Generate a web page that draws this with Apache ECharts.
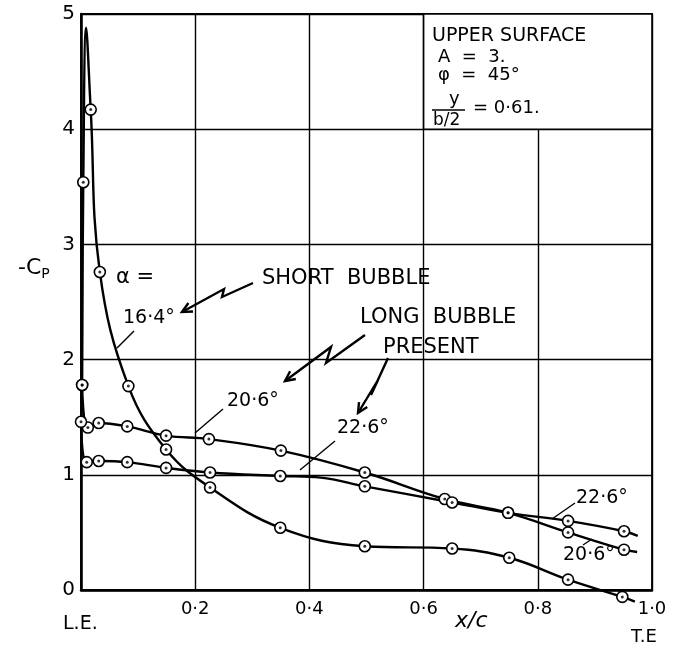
<!DOCTYPE html>
<html><head><meta charset="utf-8">
<script src="https://cdn.jsdelivr.net/npm/echarts@6/dist/echarts.min.js"></script>
<style>html,body{margin:0;padding:0;background:#fff}#c{width:673px;height:648px}</style>
</head><body><div id="c"></div>
<script>
// ---- data (x/c , -Cp) ----
const x164 = [0.002, 0.004, 0.009, 0.017, 0.033, 0.083, 0.149, 0.226, 0.349, 0.497, 0.650, 0.750, 0.853, 0.948, 0.970];
const y164 = [1.78, 3.54, 4.88, 4.17, 2.76, 1.77, 1.22, 0.89, 0.54, 0.38, 0.36, 0.28, 0.09, -0.06, -0.10];
const noMark164 = [2, 14];

const x206 = [0.002, 0.012, 0.031, 0.081, 0.149, 0.224, 0.350, 0.497, 0.637, 0.748, 0.853, 0.951, 0.974];
const y206 = [1.78, 1.41, 1.45, 1.42, 1.34, 1.31, 1.21, 1.02, 0.79, 0.67, 0.50, 0.35, 0.33];
const noMark206 = [12];

const x226 = [0.000, 0.010, 0.031, 0.081, 0.149, 0.226, 0.349, 0.420, 0.497, 0.650, 0.748, 0.853, 0.951, 0.975];
const y226 = [1.46, 1.11, 1.12, 1.11, 1.06, 1.02, 0.99, 0.975, 0.90, 0.76, 0.67, 0.60, 0.51, 0.47];
const noMark226 = [7, 13];

const xTicks = ['', '0·2', '0·4', '0·6', '0·8', '1·0'];
const yTicks = ['0', '1', '2', '3', '4', '5'];

const FONT = 'DejaVu Sans';
const chart = echarts.init(document.getElementById('c'));

function lineData(xs, ys, nm) {
  return xs.map((x, i) => ({ value: [x, ys[i]], symbol: nm.includes(i) ? 'none' : 'circle' }));
}
function dotData(xs, ys, nm) {
  return xs.map((x, i) => [x, ys[i]]).filter((d, i) => !nm.includes(i));
}
function curve(name, xs, ys, nm) {
  return {
    name, type: 'line', data: lineData(xs, ys, nm), smooth: 0.4,
    clip: false, symbolSize: 11, z: 3,
    lineStyle: { color: '#000', width: 2.4 },
    itemStyle: { color: '#fff', borderColor: '#000', borderWidth: 1.6 }
  };
}
function dots(xs, ys, nm) {
  return { type: 'scatter', data: dotData(xs, ys, nm), symbolSize: 3, clip: false, z: 4,
    itemStyle: { color: '#000' }, silent: true };
}

// annotation helpers (pixel positions)
function txt(text, x, y, size, extra) {
  return Object.assign({ type: 'text', z: 20, style: Object.assign({ text, x, y, fill: '#000',
    font: 'normal ' + size + 'px "' + FONT + '"', textVerticalAlign: 'middle' }, extra || {}) });
}
function pl(points, w) {
  return { type: 'polyline', z: 20, shape: { points }, style: { stroke: '#000', lineWidth: w || 1.6, fill: null } };
}
function arrow(points) {
  const n = points.length, a = points[n - 2], b = points[n - 1];
  const ang = Math.atan2(b[1] - a[1], b[0] - a[0]), L = 11, sp = 0.45;
  const h1 = [b[0] - L * Math.cos(ang - sp), b[1] - L * Math.sin(ang - sp)];
  const h2 = [b[0] - L * Math.cos(ang + sp), b[1] - L * Math.sin(ang + sp)];
  return [pl(points, 2.4), pl([h1, b, h2], 2.4)];
}

const option = {
  animation: false,
  backgroundColor: '#fff',
  grid: { left: 81, right: 21, top: 14, bottom: 58, show: true, borderColor: '#000', borderWidth: 1.8, backgroundColor: 'transparent' },
  xAxis: {
    type: 'value', min: 0, max: 1, interval: 0.2,
    axisLine: { show: true, onZero: false, lineStyle: { color: '#000', width: 2.5 } },
    axisTick: { show: false },
    splitLine: { show: true, lineStyle: { color: '#000', width: 1.4 } },
    axisLabel: { color: '#000', fontFamily: FONT, fontSize: 18, margin: 10,
      formatter: v => xTicks[Math.round(v / 0.2)] }
  },
  yAxis: {
    type: 'value', min: 0, max: 5, interval: 1,
    axisLine: { show: true, onZero: false, lineStyle: { color: '#000', width: 2.5 } },
    axisTick: { show: false },
    splitLine: { show: true, lineStyle: { color: '#000', width: 1.4 } },
    axisLabel: { color: '#000', fontFamily: FONT, fontSize: 20, margin: 6,
      formatter: v => yTicks[Math.round(v)] }
  },
  series: [
    Object.assign(curve('16.4°', x164, y164, noMark164), {
      markArea: { silent: true, z: 2,
        itemStyle: { color: '#fff', borderColor: '#000', borderWidth: 1.6 },
        data: [[{ coord: [0.6, 5] }, { coord: [1.0, 4] }]] }
    }),
    curve('20.6°', x206, y206, noMark206),
    curve('22.6°', x226, y226, noMark226),
    dots(x164, y164, noMark164),
    dots(x206, y206, noMark206),
    dots(x226, y226, noMark226)
  ],
  graphic: [
    { type: 'text', z: 20, style: { x: 18, y: 268, text: '{a|-C}{b|P}', textVerticalAlign: 'middle',
        rich: { a: { fontFamily: FONT, fontSize: 22, fill: '#000', color: '#000' },
                b: { fontFamily: FONT, fontSize: 14, fill: '#000', color: '#000', padding: [12, 0, 0, 0] } } } },
    txt('α =', 116, 278, 21),
    txt('16·4°', 123, 318, 19),
    pl([[117, 348], [134, 331]], 1.4),
    txt('SHORT  BUBBLE', 262, 279, 21),
    ...arrow([[253, 283], [222, 297], [224, 289], [182, 312]]),
    txt('LONG  BUBBLE', 360, 318, 21),
    txt('PRESENT', 383, 348, 21),
    ...arrow([[365, 335], [326, 363], [331, 347], [285, 381]]),
    ...arrow([[388, 358], [371, 395], [378, 380], [358, 413]]),
    txt('20·6°', 227, 401, 19),
    pl([[223, 409], [195, 433]], 1.4),
    txt('22·6°', 337, 428, 19),
    pl([[335, 441], [300, 470]], 1.4),
    txt('22·6°', 576, 498, 19),
    pl([[575, 503], [552, 519]], 1.4),
    txt('20·6°', 563, 555, 19),
    pl([[583, 545], [592, 539]], 1.4),
    txt('UPPER SURFACE', 432, 36, 19),
    txt('A  =  3.', 438, 57, 18),
    txt('φ  =  45°', 438, 75, 18),
    txt('y', 449, 99, 18),
    pl([[432, 110], [465, 110]], 1.4),
    txt('b/2', 433, 121, 17),
    txt('= 0·61.', 473, 108, 18),
    txt('L.E.', 63, 624, 19),
    txt('T.E', 631, 637, 18),
    txt('x/c', 455, 621, 22, { font: 'italic 22px "' + FONT + '"' })
  ]
};
chart.setOption(option);
</script></body></html>
